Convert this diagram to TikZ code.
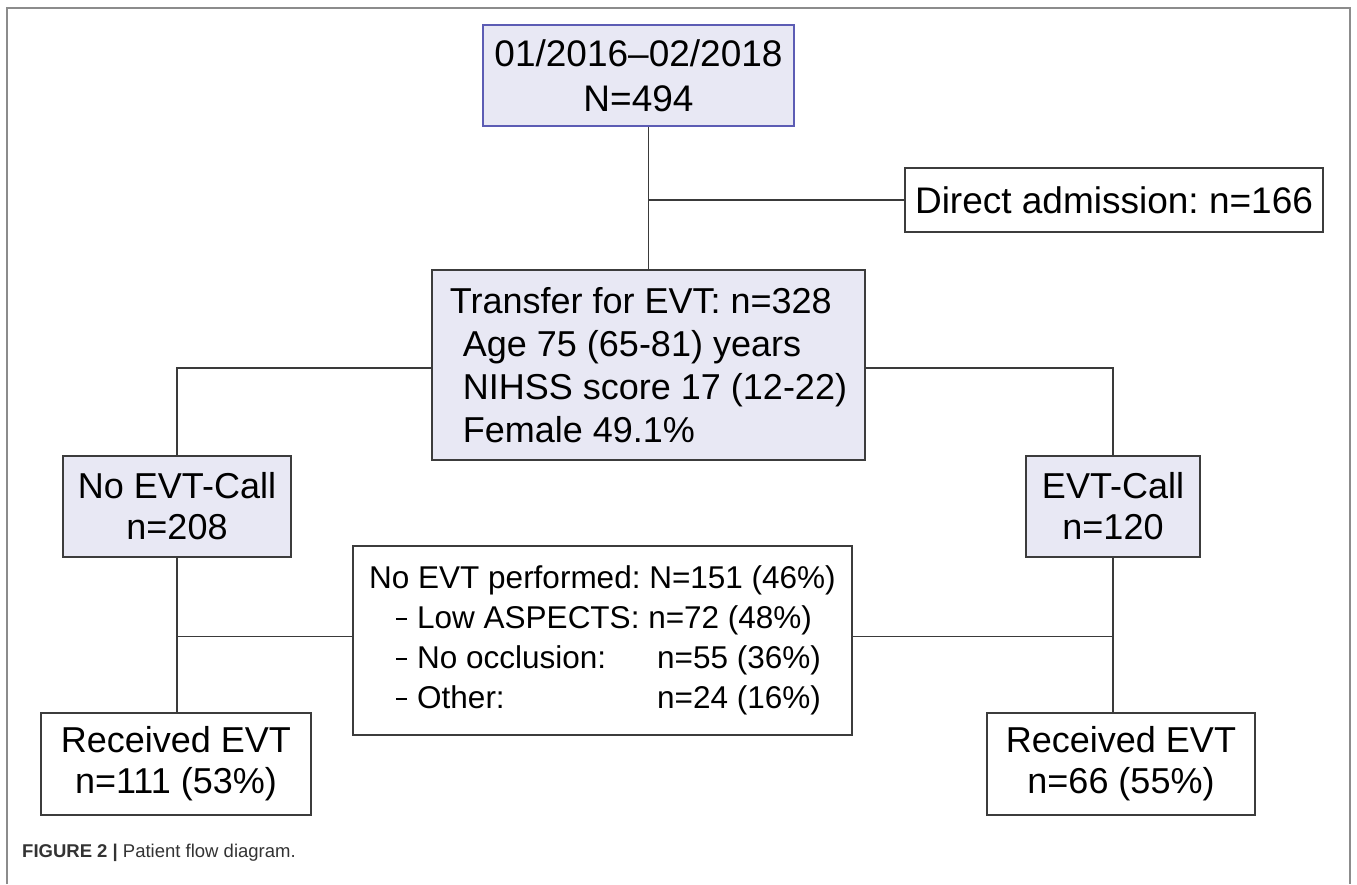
\documentclass[tikz,border=0pt]{standalone}
\usepackage{fontspec}
\setmainfont{Liberation Sans}
\usepackage{tikz}
\usetikzlibrary{
    positioning,
    calc
}
\definecolor{cohortfill}{HTML}{E8E8F4}
\definecolor{cohortborder}{HTML}{3C3C3C}
\definecolor{periodborder}{HTML}{5C5CB4}
\definecolor{linkgray}{HTML}{3A3A3A}
\definecolor{framegray}{HTML}{8C8C8C}
\definecolor{captiongray}{HTML}{333333}
\tikzset{
    cohort/.style={
        rectangle, draw=cohortborder, fill=cohortfill,
        line width=1.3pt, inner sep=0pt, align=center,
        font=\fontsize{36}{41}\selectfont
    },
    outcome/.style={
        cohort, fill=white
    },
    link/.style={
        draw=linkgray, line width=1.3pt
    },
}
\frenchspacing
\newcommand{\reasondash}{\hspace*{27pt}\makebox[21pt][l]{\rule[9pt]{11pt}{1.2pt}}}

\begin{document}
\begin{tikzpicture}[x=1pt, y=-1pt]

    \useasboundingbox (0,0) rectangle (1357,884);

    % Figure frame
    \draw[framegray, line width=1.6pt] (7,884) -- (7,8) -- (1350,8) -- (1350,884);

    % Study period
    \node[cohort, draw=periodborder, minimum width=311pt, minimum height=101pt,
          font=\fontsize{37}{45}\selectfont] (period) at (638.5,75.5)
          {01/2016--02/2018\\N=494};

    % Excluded direct admissions
    \node[outcome, minimum width=418pt, minimum height=64pt,
          font=\fontsize{37}{41}\selectfont] (direct) at (1114,200)
          {Direct admission: n=166};

    % Transferred patients
    \node[cohort, minimum width=433pt, minimum height=190pt, align=left,
          font=\fontsize{36}{43}\selectfont] (transfer) at (648.5,365)
          {Transfer for EVT: n=328\\
           \hspace*{13pt}Age 75 (65-81) years\\
           \hspace*{13pt}NIHSS score 17 (12-22)\\
           \hspace*{13pt}Female 49.1\%};

    % Call groups
    \node[cohort, minimum width=228pt, minimum height=101pt] (nocall) at (177,506.5)
          {No EVT-Call\\n=208};
    \node[cohort, minimum width=174pt, minimum height=101pt] (call) at (1113,506.5)
          {EVT-Call\\n=120};

    % Not treated
    \node[outcome, minimum width=499pt, minimum height=189pt, align=left,
          font=\fontsize{31.5}{40}\selectfont] (noevt) at (602.5,640.5)
          {No EVT performed: N=151 (46\%)\\
           \reasondash Low ASPECTS: n=72 (48\%)\\
           \reasondash\makebox[240pt][l]{No occlusion:}n=55 (36\%)\\
           \reasondash\makebox[240pt][l]{Other:}n=24 (16\%)};

    % Treated
    \node[outcome, minimum width=270pt, minimum height=102pt] (recvleft) at (176,764)
          {Received EVT\\n=111 (53\%)};
    \node[outcome, minimum width=268pt, minimum height=102pt] (recvright) at (1121,764)
          {Received EVT\\n=66 (55\%)};

    % Flows
    \draw[link] (period.south -| transfer.north) -- (transfer.north);
    \draw[link] (direct.west) -- (direct.west -| transfer.north);
    \draw[link] ([yshift=-3pt]transfer.west) -| (nocall.north);
    \draw[link] ([yshift=-3pt]transfer.east) -| (call.north);
    \draw[link] (nocall.south) -- (nocall.south |- recvleft.north);
    \draw[link] (call.south) -- (call.south |- recvright.north);
    \draw[link] ([yshift=4pt]noevt.west) -- ([yshift=4pt]noevt.west -| nocall.south);
    \draw[link] ([yshift=4pt]noevt.east) -- ([yshift=4pt]noevt.east -| call.south);

    % Caption
    \node[anchor=west, inner sep=0pt, text=captiongray, font=\fontsize{18.5}{22}\selectfont]
          (caption) at (22,853) {\textbf{FIGURE 2 |} Patient flow diagram.};

\end{tikzpicture}
\end{document}
